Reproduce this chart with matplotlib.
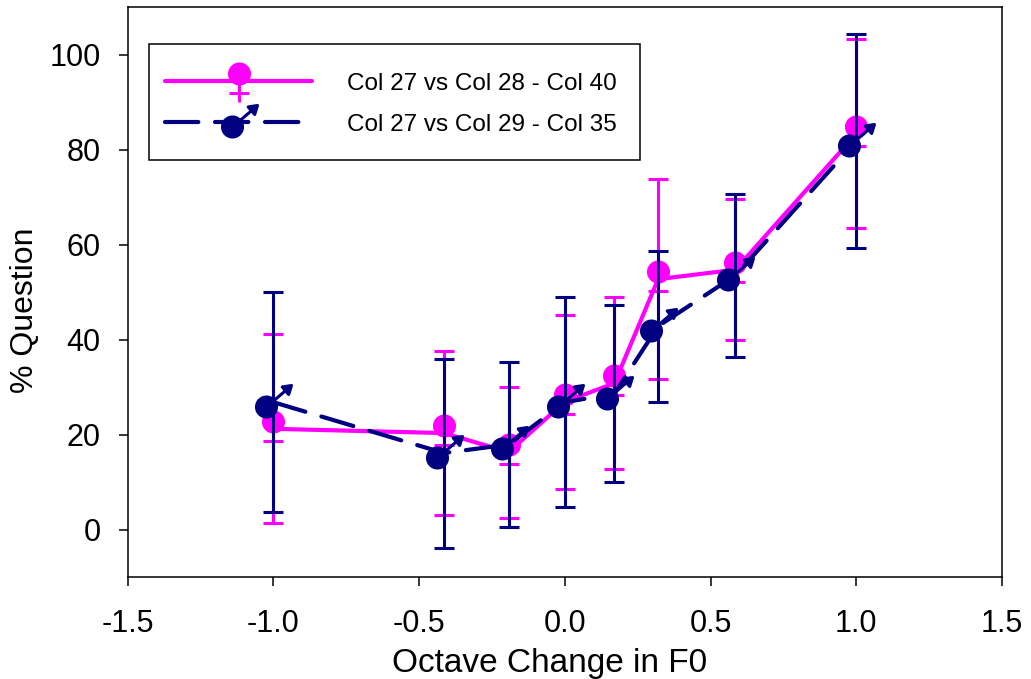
import numpy as np
import matplotlib
matplotlib.use("Agg")
import matplotlib.pyplot as plt
from matplotlib.path import Path
from matplotlib.patches import Rectangle

plt.rcParams["font.family"] = ["Liberation Sans", "DejaVu Sans"]
plt.rcParams["axes.unicode_minus"] = False

# Data
octave = [-1.0, -0.415, -0.193, 0.0, 0.17, 0.32, 0.585, 1.0]

q_28_40 = [21.3, 20.4, 16.4, 27.0, 30.9, 52.8, 54.8, 83.4]
err_28_40 = [19.9, 17.3, 13.8, 18.3, 18.1, 21.1, 14.9, 19.9]

q_29_35 = [26.9, 16.2, 18.0, 26.9, 28.7, 42.9, 53.6, 81.9]
err_29_35 = [23.2, 19.9, 17.4, 22.1, 18.7, 15.9, 17.2, 22.5]

labels = ["Col 27 vs Col 28 - Col 40", "Col 27 vs Col 29 - Col 35"]

MAGENTA = "#ff00ff"
NAVY = "#000080"
DPI = 100
PX = 72.0 / DPI  # points per pixel


def female_marker():
    # big filled circle above the point, cross below (pixel units, y up)
    circ = Path.circle((0, 7.5), 10.0)
    stem = Path([(0, -2.5), (0, -21)], [Path.MOVETO, Path.LINETO])
    bar = Path([(-10, -12), (10, -12)], [Path.MOVETO, Path.LINETO])
    return Path.make_compound_path(circ, stem, bar)


def male_marker():
    c = np.array([-7.0, -4.5])
    r = 10.0
    tip = np.array([18.0, 17.0])
    d = (tip - c) / np.linalg.norm(tip - c)
    n = np.array([-d[1], d[0]])
    base = tip - 8 * d
    circ = Path.circle(tuple(c), r)
    shaft = Path([tuple(c + d * r), tuple(base)], [Path.MOVETO, Path.LINETO])
    head = Path([tuple(tip), tuple(base + 5 * n), tuple(base - 5 * n), tuple(tip)],
                [Path.MOVETO, Path.LINETO, Path.LINETO, Path.CLOSEPOLY])
    return Path.make_compound_path(circ, shaft, head)


def marker_size(path):
    # matplotlib rescales a path marker so its largest |vertex| is half the size
    return 2 * np.abs(path.vertices).max() * PX


fem = female_marker()
mal = male_marker()

fig = plt.figure(figsize=(10.31, 6.79), dpi=DPI)
ax = fig.add_axes([0.1239, 0.1495, 0.8480, 0.8395])

ax.errorbar(octave, q_28_40, yerr=err_28_40, fmt="none", ecolor=MAGENTA,
            elinewidth=2.2, capsize=7.2, capthick=2.2, zorder=2)
ax.plot(octave, q_28_40, color=MAGENTA, lw=3, marker=fem,
        markersize=marker_size(fem), markerfacecolor=MAGENTA,
        markeredgecolor=MAGENTA, markeredgewidth=2.2,
        solid_capstyle="round", label=labels[0], zorder=3)

ax.errorbar(octave, q_29_35, yerr=err_29_35, fmt="none", ecolor=NAVY,
            elinewidth=2.2, capsize=7.2, capthick=2.2, zorder=4)
ax.plot(octave, q_29_35, color=NAVY, lw=3, ls=(0, (8, 4)), marker=mal,
        markersize=marker_size(mal), markerfacecolor=NAVY,
        markeredgecolor=NAVY, markeredgewidth=2.2,
        dash_capstyle="round", label=labels[1], zorder=5)

ax.set_xlim(-1.5, 1.5)
ax.set_ylim(-10, 110)
ax.set_xticks([-1.5, -1.0, -0.5, 0.0, 0.5, 1.0, 1.5])
ax.set_xticklabels([f"{v:.1f}" for v in ax.get_xticks()])
ax.set_yticks([0, 20, 40, 60, 80, 100])

for s in ax.spines.values():
    s.set_linewidth(1.1)
ax.tick_params(axis="both", direction="out", length=6.5, width=1.1,
               labelsize=22)
ax.tick_params(axis="x", pad=16)
ax.tick_params(axis="y", pad=13)

ax.set_xlabel("Octave Change in F0", fontsize=24)
ax.set_ylabel("% Question", fontsize=23)
ax.xaxis.set_label_coords(0.483, -0.124)
ax.yaxis.set_label_coords(-0.100, 0.469)

# legend box drawn separately so the padding can match the original
frame = Rectangle((0.0244, 0.7325), 0.5616, 0.2035, transform=ax.transAxes,
                  facecolor="white", edgecolor="black", linewidth=1.1,
                  zorder=6)
ax.add_patch(frame)
leg = ax.legend(loc="center left", bbox_to_anchor=(0.0427, 0.830),
                borderaxespad=0, borderpad=0, fontsize=17.5,
                handlelength=6.05, handletextpad=1.44, labelspacing=0.78,
                frameon=False)
leg.set_zorder(7)

fig.savefig("out.png", dpi=DPI)
